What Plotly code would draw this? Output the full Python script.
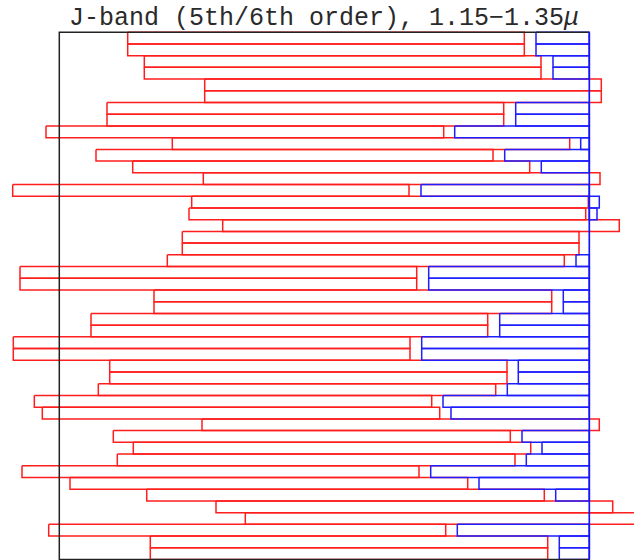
import plotly.graph_objects as go

# Slit layout on the detector: one row per slit, x in pixels from the
# left edge of the detector frame (frame spans 0..530), rows counted from the top.
n_rows = 45
frame_x = [0, 530]

# 5th-order (red) spectrum extent for each slit
red_start = [68.4, 68.4, 85.0, 85.0, 145.4, 145.4, 47.7, 47.7, -13.3, 113.0,
             36.7, 73.4, 144.0, -46.6, 132.4, 129.7, 163.4, 123.0, 123.0, 108.0,
             -39.3, -39.3, 94.7, 94.7, 31.7, 31.7, -46.0, -46.0, 50.4, 50.4,
             39.0, -25.0, -17.0, 142.7, 54.0, 74.0, 58.0, -37.3, 10.7, 87.4,
             156.7, 186.0, -10.6, 91.0, 91.0]
red_end = [465.0, 465.0, 481.7, 481.7, 542.0, 542.0, 444.4, 444.4, 384.4, 510.4,
           433.7, 470.4, 540.7, 349.7, 529.0, 526.4, 560.0, 519.7, 519.7, 505.0,
           357.4, 357.4, 492.4, 492.4, 428.4, 428.4, 350.7, 350.7, 447.7, 447.7,
           436.4, 372.4, 380.4, 540.0, 451.0, 471.4, 455.7, 359.7, 408.4, 485.0,
           553.4, 583.0, 386.4, 488.4, 488.4]

# 6th-order (blue) spectrum extent; None where it falls off the detector
blue_start = [476.7, 476.7, 493.7, 493.7, None, None, 456.4, 456.4, 395.4, 521.4,
              445.4, 482.0, None, 361.7, 530.0, 530.0, None, None, None, 516.7,
              369.4, 369.4, 504.0, 504.0, 440.4, 440.4, 362.4, 362.4, 459.0, 459.0,
              448.0, 383.7, 391.7, None, 462.7, 482.7, 467.0, 371.4, 419.7, 496.4,
              None, None, 398.0, 500.0, 500.0]
blue_end = [530.0, 530.0, 530.0, 530.0, None, None, 530.0, 530.0, 530.0, 530.0,
            530.0, 530.0, None, 530.0, 540.0, 537.7, None, None, None, 530.0,
            530.0, 530.0, 530.0, 530.0, 530.0, 530.0, 530.0, 530.0, 530.0, 530.0,
            530.0, 530.0, 530.0, None, 530.0, 530.0, 530.0, 530.0, 530.0, 530.0,
            None, None, 530.0, 530.0, 530.0]

title_text = "J-band (5th/6th order), 1.15\u22121.35<i>\u03bc</i>"


def outline(starts, ends):
    xs, ys = [], []
    for row, (x0, x1) in enumerate(zip(starts, ends)):
        if x0 is None:
            continue
        xs += [x0, x1, x1, x0, x0, None]
        ys += [row, row, row + 1, row + 1, row, None]
    return xs, ys


fig = go.Figure()

rx, ry = outline(red_start, red_end)
fig.add_trace(go.Scatter(x=rx, y=ry, mode="lines",
                         line=dict(color="rgb(255,30,30)", width=1.5),
                         hoverinfo="skip"))

bx, by = outline(blue_start, blue_end)
fig.add_trace(go.Scatter(x=bx, y=by, mode="lines",
                         line=dict(color="rgb(30,30,255)", width=1.5),
                         hoverinfo="skip"))

# Detector frame: black on three sides, blue along the right edge
fig.add_trace(go.Scatter(x=[frame_x[1], frame_x[0], frame_x[0], frame_x[1]],
                         y=[0, 0, n_rows, n_rows], mode="lines",
                         line=dict(color="#222222", width=1.5),
                         hoverinfo="skip"))
fig.add_trace(go.Scatter(x=[frame_x[1], frame_x[1]], y=[0, n_rows], mode="lines",
                         line=dict(color="rgb(20,20,255)", width=1.7),
                         hoverinfo="skip"))

W, H = 634, 560
left_px, right_px = 59.3, 589.3
top_px, bottom_px = 32.2, 559.5
px_per_x = (right_px - left_px) / (frame_x[1] - frame_x[0])
px_per_row = (bottom_px - top_px) / n_rows

fig.add_annotation(x=(frame_x[0] + frame_x[1]) / 2, xref="x",
                   y=1 - 18.5 / H, yref="paper", yanchor="middle",
                   text=title_text, showarrow=False,
                   font=dict(family="Liberation Mono", size=25, color="#2a2a2a"))

fig.update_layout(
    width=W, height=H,
    margin=dict(l=0, r=0, t=0, b=0),
    paper_bgcolor="white", plot_bgcolor="white",
    showlegend=False,
    xaxis=dict(visible=False,
               range=[frame_x[0] - left_px / px_per_x,
                      frame_x[1] + (W - right_px) / px_per_x]),
    yaxis=dict(visible=False,
               range=[n_rows + (H - bottom_px) / px_per_row,
                      -top_px / px_per_row]),
)

fig.write_html("out.html")
